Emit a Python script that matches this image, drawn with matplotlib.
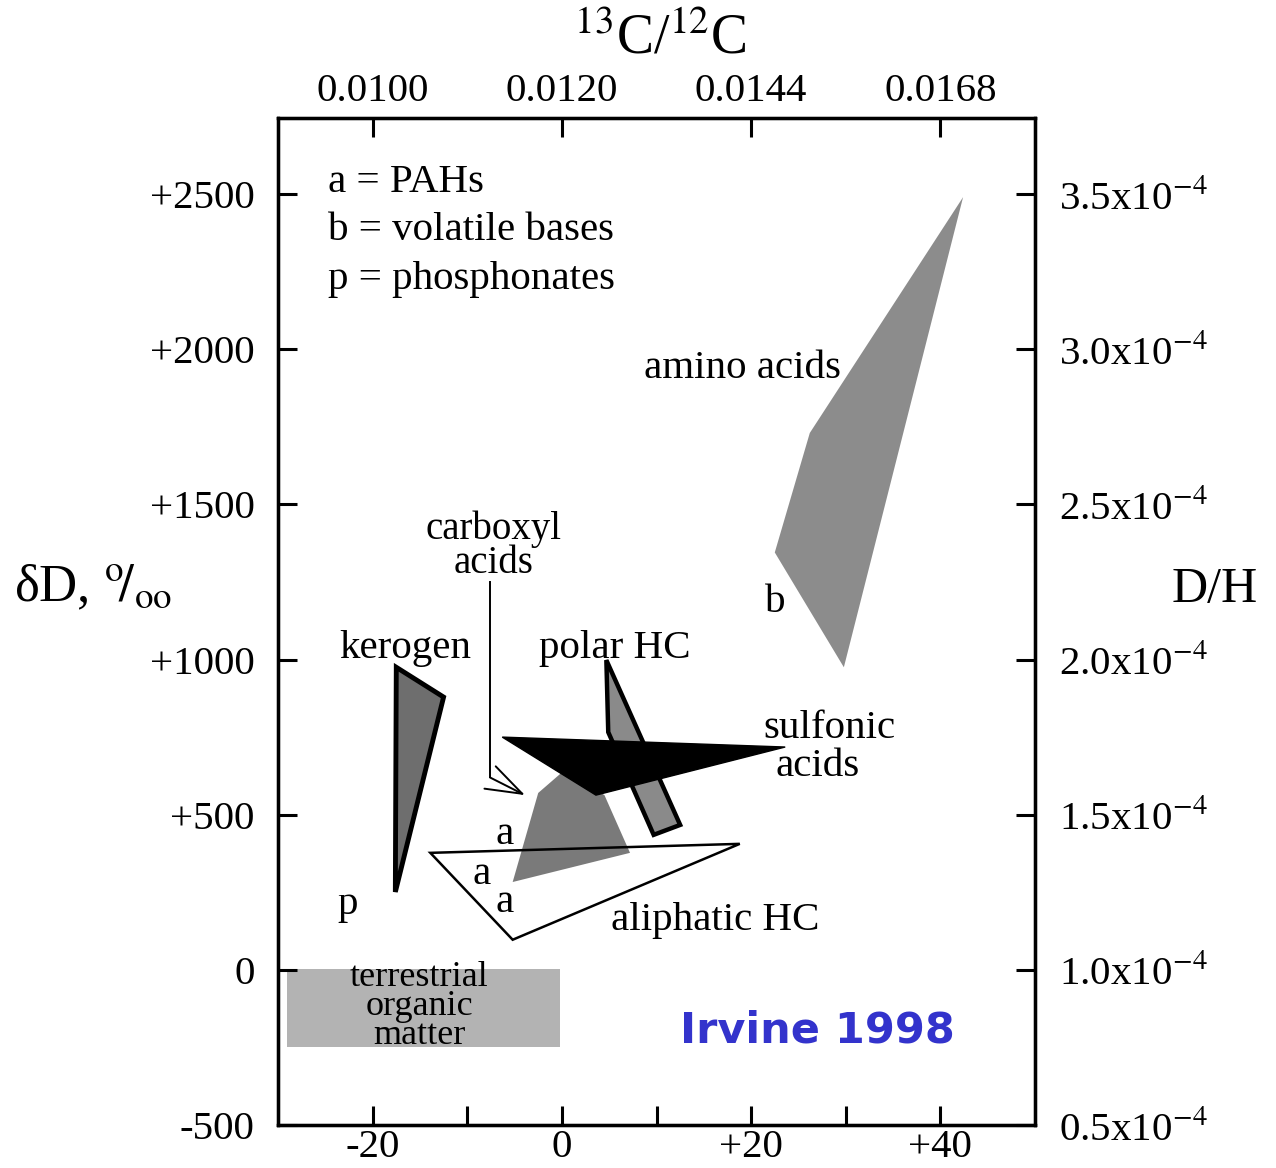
import numpy as np
import matplotlib
matplotlib.use("Agg")
import matplotlib.pyplot as plt
from matplotlib.patches import Polygon, Rectangle

plt.rcParams['font.family'] = ['Liberation Serif', 'DejaVu Serif']
plt.rcParams['mathtext.fontset'] = 'stix'

# region outlines, delta13C (permil) vs deltaD (permil)
amino_x = [42.4, 26.2, 22.5, 29.8]
amino_y = [2490, 1730, 1345, 975]

kerogen_x = [-17.5, -12.5, -17.6]
kerogen_y = [975, 879, 251]

polar_x = [4.7, 4.9, 9.7, 12.5]
polar_y = [998, 766, 435, 467]

carboxyl_x = [-2.5, 0.3, 4.5, 7.2, -5.2]
carboxyl_y = [570, 644, 563, 377, 283]

sulfonic_x = [-6.3, 23.6, 3.6]
sulfonic_y = [750, 718, 563]

aliphatic_x = [-13.9, 18.8, -5.2]
aliphatic_y = [377, 406, 97]

terr_x = [-29.0, -0.2]
terr_y = [-248, 3]

# axis ticks
bottom_ticks = [-20, -10, 0, 10, 20, 30, 40]
bottom_labels = ["-20", "", "0", "", "+20", "", "+40"]
top_ticks = [-20, 0, 20, 40]
top_labels = ["0.0100", "0.0120", "0.0144", "0.0168"]
left_ticks = [-500, 0, 500, 1000, 1500, 2000, 2500]
left_labels = ["-500", "0", "+500", "+1000", "+1500", "+2000", "+2500"]
right_labels = [r"0.5x10$^{-4}$", r"1.0x10$^{-4}$", r"1.5x10$^{-4}$",
                r"2.0x10$^{-4}$", r"2.5x10$^{-4}$", r"3.0x10$^{-4}$",
                r"3.5x10$^{-4}$"]

W, H = 1276, 1168
fig = plt.figure(figsize=(W / 100, H / 100), dpi=100)
ax = fig.add_axes([278 / W, 1 - 1125 / H, 757 / W, (1125 - 118) / H])
ax.set_xlim(-30, 50)
ax.set_ylim(-500, 2745)

fs = 29.5
spine_w = 2.3

# shapes
ax.add_patch(Rectangle((terr_x[0], terr_y[0]), terr_x[1] - terr_x[0],
                       terr_y[1] - terr_y[0], facecolor='#b3b3b3', edgecolor='none'))
ax.add_patch(Polygon(np.column_stack([amino_x, amino_y]), closed=True,
                     facecolor='#8c8c8c', edgecolor='none'))
ax.add_patch(Polygon(np.column_stack([kerogen_x, kerogen_y]), closed=True,
                     facecolor='#6e6e6e', edgecolor='black', lw=3.5, joinstyle='miter'))
ax.add_patch(Polygon(np.column_stack([aliphatic_x, aliphatic_y]), closed=True,
                     facecolor='none', edgecolor='black', lw=1.8, zorder=3))
ax.add_patch(Polygon(np.column_stack([carboxyl_x, carboxyl_y]), closed=True,
                     facecolor='#7a7a7a', edgecolor='none', zorder=2))
ax.add_patch(Polygon(np.column_stack([polar_x, polar_y]), closed=True,
                     facecolor='#8a8a8a', edgecolor='black', lw=3.2, joinstyle='miter', zorder=2))
ax.add_patch(Polygon(np.column_stack([sulfonic_x, sulfonic_y]), closed=True,
                     facecolor='black', edgecolor='black', lw=1, zorder=4))

# carboxyl acids pointer
ax.plot([-7.6, -7.6], [1249, 620], color='black', lw=1.4)
ax.annotate("", xy=(-3.9, 563), xytext=(-7.6, 620),
            arrowprops=dict(arrowstyle='->,head_length=1.3,head_width=0.45',
                            mutation_scale=20, color='black', lw=1.4,
                            shrinkA=0, shrinkB=0))

# labels
ax.text(-24.7, 2537, "a = PAHs", fontsize=fs, va='center')
ax.text(-24.7, 2383, "b = volatile bases", fontsize=fs, va='center')
ax.text(-24.7, 2225, "p = phosphonates", fontsize=fs, va='center')
ax.text(19.1, 1938, "amino acids", fontsize=fs, ha='center', va='center')
ax.text(-7.2, 1420, "carboxyl", fontsize=28, ha='center', va='center')
ax.text(-7.2, 1310, "acids", fontsize=28, ha='center', va='center')
ax.text(-16.6, 1034, "kerogen", fontsize=fs, ha='center', va='center')
ax.text(5.6, 1034, "polar HC", fontsize=fs, ha='center', va='center')
ax.text(28.3, 779, "sulfonic", fontsize=fs, ha='center', va='center')
ax.text(27.0, 654, "acids", fontsize=fs, ha='center', va='center')
ax.text(22.5, 1185, "b", fontsize=fs, ha='center', va='center')
ax.text(-6.0, 435, "a", fontsize=fs, ha='center', va='center')
ax.text(-8.5, 306, "a", fontsize=fs, ha='center', va='center')
ax.text(-6.0, 216, "a", fontsize=fs, ha='center', va='center')
ax.text(-22.6, 209, "p", fontsize=fs, ha='center', va='center')
ax.text(16.2, 158, "aliphatic HC", fontsize=fs, ha='center', va='center', zorder=5)
for yy, line in zip([-24, -118, -210], ["terrestrial", "organic", "matter"]):
    ax.text(-15.1, yy, line, fontsize=26, ha='center', va='center')
ax.text(27.0, -196, "Irvine 1998", fontsize=31, fontweight='bold',
        family='DejaVu Sans', color='#3333cc', ha='center', va='center')

# axes styling
for s in ax.spines.values():
    s.set_linewidth(spine_w)
ax.set_xticks(bottom_ticks)
ax.set_xticklabels(bottom_labels)
ax.set_yticks(left_ticks)
ax.set_yticklabels(left_labels)
ax.tick_params(axis='x', direction='in', length=14, width=2.2, labelsize=fs, pad=3)
ax.tick_params(axis='y', direction='in', length=14, width=2.2, labelsize=fs, pad=17)

axt = ax.twiny()
axt.set_xlim(ax.get_xlim())
axt.set_xticks(top_ticks)
axt.set_xticklabels(top_labels)
axt.tick_params(axis='x', direction='in', length=14, width=2.2, labelsize=fs, pad=6)

axr = ax.twinx()
axr.set_ylim(ax.get_ylim())
axr.set_yticks(left_ticks)
axr.set_yticklabels(right_labels)
axr.tick_params(axis='y', direction='in', length=14, width=2.2, labelsize=fs, pad=17)
for a in (axt, axr):
    for s in a.spines.values():
        s.set_linewidth(spine_w)

# axis titles
fig.text(14 / W, 1 - 588 / H, r"δD, $^{\mathrm{o}}\!/_{\mathrm{oo}}$", fontsize=38,
         ha='left', va='center')
fig.text(1172 / W, 1 - 590 / H, "D/H", fontsize=36, ha='left', va='center')
fig.text(660 / W, 1 - 40 / H, r"$^{13}$C/$^{12}$C", fontsize=40, ha='center', va='center')

fig.savefig("out.png", dpi=100)
